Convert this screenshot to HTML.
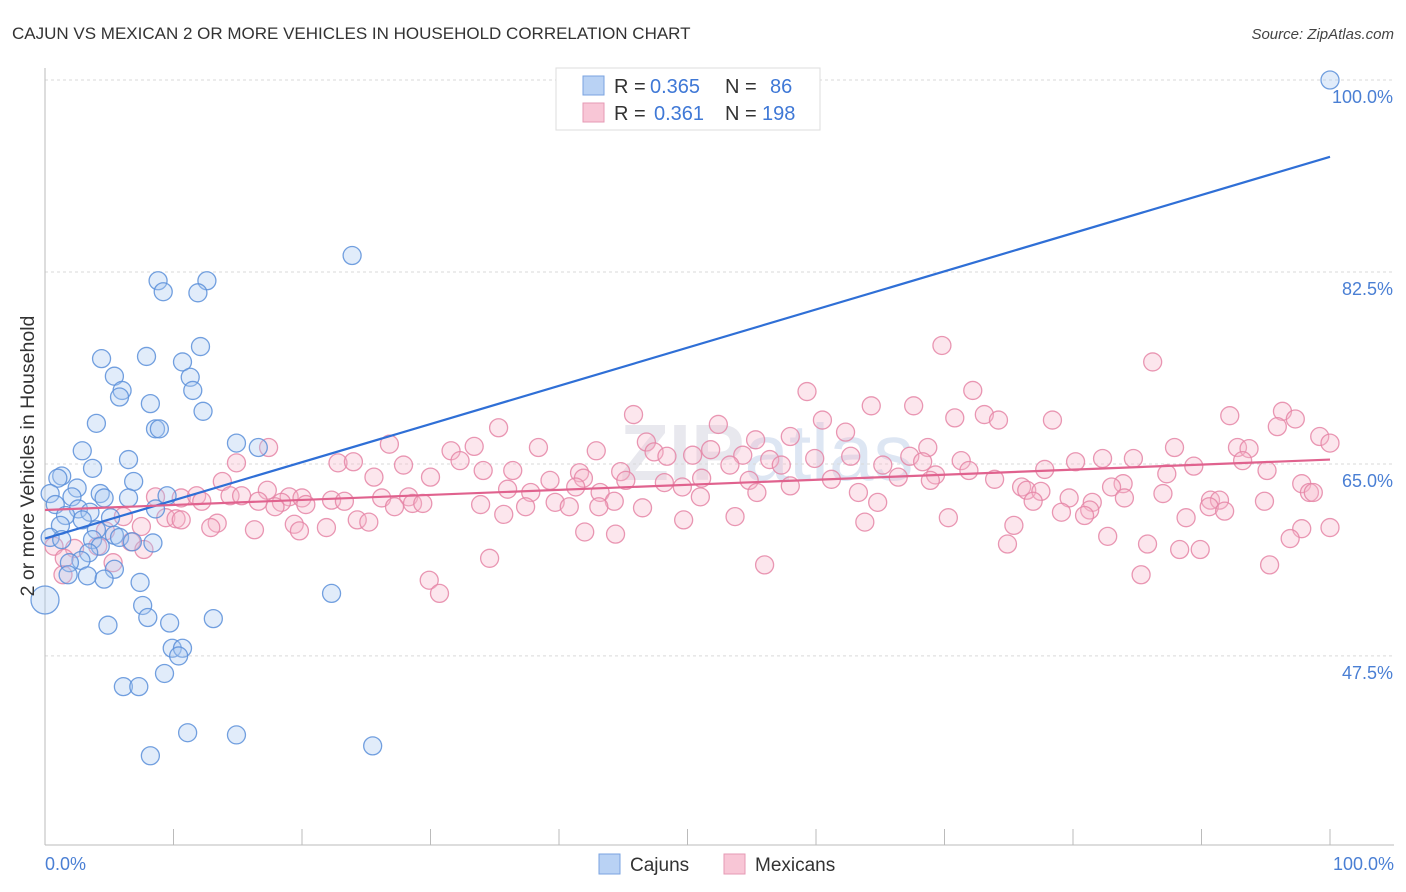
<!DOCTYPE html>
<html><head><meta charset="utf-8">
<style>
body{margin:0;background:#fff;font-family:"Liberation Sans",sans-serif;}
#wrap{position:relative;width:1406px;height:892px;overflow:hidden;}
</style></head>
<body>
<div id="wrap">
<svg id="chart" width="1406" height="892" xmlns="http://www.w3.org/2000/svg">
<text x="12" y="39" font-size="17" fill="#333">CAJUN VS MEXICAN 2 OR MORE VEHICLES IN HOUSEHOLD CORRELATION CHART</text>
<text x="1394" y="39" font-size="15" fill="#444" font-style="italic" text-anchor="end">Source: ZipAtlas.com</text>
<text x="620" y="480" font-size="80" fill="#e8e8ee" font-weight="bold">ZIP<tspan fill="#dde6f3" font-weight="normal">atlas</tspan></text>
<g id="grid"></g>
<g id="axes"></g>
<g id="pink"></g>
<g id="blue"></g>
<g id="lines"></g>
<text transform="translate(34,456) rotate(-90)" font-size="19.5" fill="#333" text-anchor="middle">2 or more Vehicles in Household</text>
<text x="45" y="870" font-size="18" fill="#4a7fd4">0.0%</text>
<text x="1394" y="870" font-size="18" fill="#4a7fd4" text-anchor="end">100.0%</text>
<g>
<rect x="556" y="68" width="264" height="62" fill="#fff" stroke="#ddd"/>
<rect x="583" y="76" width="21" height="19" fill="#b9d2f4" stroke="#7aa3e0"/>
<rect x="583" y="103" width="21" height="19" fill="#f8c6d6" stroke="#e69ab4"/>
<text x="614" y="93" font-size="20" fill="#333">R =</text>
<text x="650" y="93" font-size="20" fill="#3f78d6">0.365</text>
<text x="725" y="93" font-size="20" fill="#333">N =</text>
<text x="770" y="93" font-size="20" fill="#3f78d6">86</text>
<text x="614" y="120" font-size="20" fill="#333">R =</text>
<text x="654" y="120" font-size="20" fill="#3f78d6">0.361</text>
<text x="725" y="120" font-size="20" fill="#333">N =</text>
<text x="762" y="120" font-size="20" fill="#3f78d6">198</text>
</g>
<g>
<rect x="599" y="854" width="21" height="20" fill="#b9d2f4" stroke="#7aa3e0"/>
<text x="630" y="871" font-size="19" fill="#333">Cajuns</text>
<rect x="724" y="854" width="21" height="20" fill="#f8c6d6" stroke="#e69ab4"/>
<text x="755" y="871" font-size="19" fill="#333">Mexicans</text>
</g>
</svg>
</div>
<script>
const yTicks=[100,82.5,65,47.5];
const yTickLabels=["100.0%","82.5%","65.0%","47.5%"];
const blueX=[100,23.9,8.8,12.6,9.2,11.9,12.1,4.4,7.9,10.7,5.4,11.3,6.0,11.5,5.8,8.2,12.3,4.0,8.6,8.9,14.9,16.6,2.9,6.5,3.7,1.3,1.0,6.9,2.5,0.4,4.3,2.1,6.5,9.5,4.6,0.8,2.6,3.5,1.6,5.1,2.9,8.6,1.2,4.0,5.4,0.4,5.8,6.8,8.4,3.7,1.3,4.3,3.4,2.8,1.9,5.4,1.8,3.3,4.6,7.4,22.3,0,7.6,8.0,13.1,4.9,9.7,9.9,10.7,10.4,9.3,6.1,7.3,11.1,14.9,25.5,8.2];
const blueY=[100,84.0,81.7,81.7,80.7,80.6,75.7,74.6,74.8,74.3,73.0,72.9,71.7,71.7,71.1,70.5,69.8,68.7,68.2,68.2,66.9,66.5,66.2,65.4,64.6,63.9,63.7,63.4,62.8,62.3,62.3,62.0,61.9,62.1,61.9,61.3,60.9,60.6,60.3,60.1,59.9,60.9,59.4,59.0,58.5,58.3,58.3,57.9,57.8,58.1,58.1,57.5,56.9,56.2,56.0,55.4,54.9,54.8,54.5,54.2,53.2,52.6,52.1,51.0,50.9,50.3,50.5,48.2,48.2,47.5,45.9,44.7,44.7,40.5,40.3,39.3,38.4];
const pinkX=[69.8,86.2,59.3,72.2,64.3,67.6,45.8,60.5,70.8,73.1,74.2,78.4,92.2,96.3,97.3,52.4,95.9,35.3,62.3,58.0,55.3,46.8,99.2,100,26.8,17.4,33.4,38.4,42.9,47.4,51.8,68.7,87.9,92.8,93.7,31.6,48.4,50.4,54.3,56.4,59.9,62.7,67.3,82.3,84.7,93.2,14.9,22.8,24.0,32.3,27.9,53.3,57.3,65.2,68.3,71.3,80.2,89.4,77.8,34.1,36.4,41.6,44.8,25.6,30.0,39.3,41.9,45.2,51.1,54.8,61.2,66.4,69.3,71.9,87.3,95.1,13.8,97.8,73.9,48.2,49.6,58.0,68.9,76.0,83.9,83.0,98.4,98.7,76.4,77.5,17.3,36.0,37.8,41.3,43.2,55.4,63.3,87.0,8.6,10.6,11.8,14.4,15.3,19.0,20.0,22.3,23.3,26.2,28.3,28.6,12.2,16.6,18.4,20.3,27.2,29.4,39.7,44.3,51.0,79.7,84.0,90.7,91.4,94.9,81.5,64.8,76.9,17.9,33.9,37.4,40.8,43.1,46.5,90.6,91.8,81.3,79.1,80.9,35.7,9.4,10.2,6.1,10.6,53.7,49.7,63.8,70.3,88.8,19.4,19.8,21.9,24.3,25.2,13.4,12.9,16.3,75.4,97.8,100,7.5,4.7,42.0,44.4,82.7,96.9,74.9,85.8,88.3,89.9,0.7,2.3,4.1,6.7,7.7,1.5,5.3,34.6,56.0,95.3,1.4,85.3,29.9,30.7];
const pinkY=[75.8,74.3,71.6,71.7,70.3,70.3,69.5,69.0,69.2,69.5,69.0,69.0,69.4,69.8,69.1,68.6,68.4,68.3,67.9,67.5,67.2,67.0,67.5,66.9,66.8,66.5,66.6,66.5,66.2,66.1,66.3,66.5,66.5,66.5,66.4,66.2,65.7,65.8,65.8,65.4,65.5,65.7,65.7,65.5,65.5,65.3,65.1,65.1,65.2,65.3,64.9,64.9,64.9,64.9,65.2,65.3,65.2,64.8,64.5,64.4,64.4,64.2,64.3,63.8,63.8,63.5,63.7,63.5,63.7,63.5,63.6,63.8,64.0,64.4,64.1,64.4,63.4,63.2,63.6,63.3,62.9,63.0,63.5,62.9,63.2,62.9,62.4,62.4,62.6,62.5,62.6,62.7,62.4,62.9,62.4,62.4,62.4,62.3,62.0,61.9,62.1,62.1,62.1,62.0,61.9,61.7,61.6,61.9,62.0,61.4,61.6,61.6,61.5,61.3,61.1,61.4,61.5,61.6,62.0,61.9,61.9,61.7,61.7,61.6,61.5,61.5,61.6,61.1,61.3,61.1,61.1,61.1,61.0,61.1,60.7,60.8,60.6,60.3,60.4,60.1,60.0,60.2,59.9,60.2,59.9,59.7,60.1,60.1,59.5,58.9,59.2,59.9,59.7,59.6,59.2,59.0,59.4,59.1,59.2,59.3,58.9,58.8,58.6,58.4,58.2,57.7,57.7,57.2,57.2,57.5,57.3,57.5,57.9,57.2,56.4,56.0,56.4,55.8,55.8,54.9,54.9,54.4,53.2];
const blueTrend=[58.2,93.0];
const pinkTrend=[60.8,65.4];

const NS="http://www.w3.org/2000/svg";
const X0=45,X1=1330,YTOP=80,PXPER=10.97;
function sx(v){return X0+(X1-X0)*v/100;}
function sy(v){return YTOP+(100-v)*PXPER;}
function mk(tag,attrs,parent){const e=document.createElementNS(NS,tag);for(const k in attrs)e.setAttribute(k,attrs[k]);parent.appendChild(e);return e;}
const grid=document.getElementById('grid'),axes=document.getElementById('axes');
yTicks.forEach((t,i)=>{
  const l=mk('line',{x1:45,x2:1394,y1:sy(t),y2:sy(t),stroke:'#d9d9d9','stroke-dasharray':'3,3'},grid);
  
  
  const tx=mk('text',{x:1393,y:sy(t)+23,'font-size':18,fill:'#4a7fd4','text-anchor':'end'},grid);
  tx.textContent=yTickLabels[i];
  
  
});
const ax=mk('line',{x1:45,x2:45,y1:68,y2:845,stroke:'#bbb'},axes);


const bx=mk('line',{x1:45,x2:1394,y1:845,y2:845,stroke:'#bbb'},axes);


for(let i=0;i<=10;i++){
  const t=mk('line',{x1:sx(i*10),x2:sx(i*10),y1:829,y2:845,stroke:'#bbb'},axes);
  
  
}
function pts(xs,ys,g,fill,stroke,name){
  const G=document.getElementById(g);
  xs.forEach((x,i)=>{
    const r=(x===0&&name==='cajun-point')?14:9;
    const c=mk('circle',{cx:sx(x),cy:sy(ys[i]),r:r,fill:fill,'fill-opacity':0.35,stroke:stroke,'stroke-width':1.3,'stroke-opacity':0.85},G);
    
    
  });
}
pts(pinkX,pinkY,'pink','#f6b8cc','#e585a6','mexican-point');
pts(blueX,blueY,'blue','#a9c8f0','#5b8fd9','cajun-point');
const L=document.getElementById('lines');
const bl=mk('line',{x1:sx(0),y1:sy(blueTrend[0]),x2:sx(100),y2:sy(blueTrend[1]),stroke:'#2f6fd6','stroke-width':2.2},L);


const pl=mk('line',{x1:sx(0),y1:sy(pinkTrend[0]),x2:sx(100),y2:sy(pinkTrend[1]),stroke:'#e0628e','stroke-width':2.2},L);


</script>
</body></html>
